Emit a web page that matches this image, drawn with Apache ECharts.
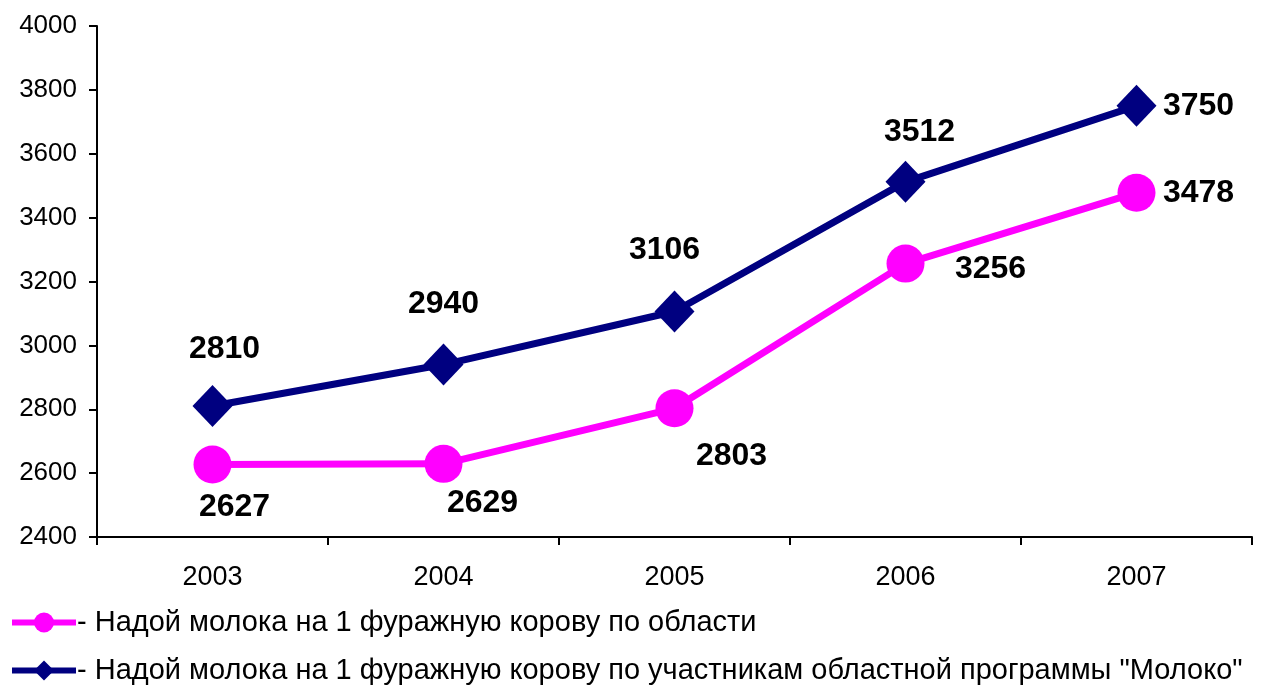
<!DOCTYPE html>
<html>
<head>
<meta charset="utf-8">
<script src="https://cdn.jsdelivr.net/npm/echarts@6/dist/echarts.min.js"></script>
<style>
  html, body { margin: 0; padding: 0; background: #fff; }
  #chart { width: 1265px; height: 686px; }
</style>
</head>
<body>
<div id="chart"></div>
<script>
const years = ['2003', '2004', '2005', '2006', '2007']
const oblast = [2627, 2629, 2803, 3256, 3478]
const moloko = [2810, 2940, 3106, 3512, 3750]
const oblastName = '- Надой молока на 1 фуражную корову по области'
const molokoName = '- Надой молока на 1 фуражную корову по участникам областной программы "Молоко"'
// label offsets [dx, dy] for each point
const oblastOffsets = [[22, 43], [39, 39], [57, 48], [85, 6], [62, 0]]
const molokoOffsets = [[12, -57], [0, -60], [-10, -61], [14, -50], [62, 0]]

const font = 'Arial, "Liberation Sans", sans-serif'

function withLabels(values, offsets) {
    return values.map((v, i) => ({
        value: v,
        label: { offset: offsets[i] }
    }))
}

const labelStyle = {
    show: true,
    position: 'inside',
    color: '#000',
    fontFamily: font,
    fontWeight: 'bold',
    fontSize: 32
}

function legendAt(top, name) {
    return {
        orient: 'horizontal',
        left: 4,
        top: top,
        itemWidth: 64,
        itemHeight: 25,
        lineStyle: { width: 6 },
        textStyle: { fontFamily: font, fontSize: 29, color: '#000', padding: [0, 0, 0, -4] },
        data: [name]
    }
}

const mycharts = echarts.init(document.getElementById('chart'))
mycharts.setOption({
    animation: false,
    grid: { left: 97, right: 13, top: 26, bottom: 149 },
    legend: [legendAt(603, oblastName), legendAt(651, molokoName)],
    xAxis: {
        type: 'category',
        data: years,
        boundaryGap: true,
        axisLine: { lineStyle: { color: '#000', width: 2 } },
        axisTick: { show: true, length: 8, lineStyle: { color: '#000', width: 2 } },
        axisLabel: { margin: 27, color: '#000', fontFamily: font, fontSize: 27 }
    },
    yAxis: {
        type: 'value',
        min: 2400,
        max: 4000,
        interval: 200,
        splitLine: { show: false },
        axisLine: { show: true, lineStyle: { color: '#000', width: 2 } },
        axisTick: { show: true, length: 8, lineStyle: { color: '#000', width: 2 } },
        axisLabel: { margin: 20, color: '#000', fontFamily: font, fontSize: 26, formatter: v => String(v) }
    },
    series: [
        {
            name: oblastName,
            type: 'line',
            data: withLabels(oblast, oblastOffsets),
            symbol: 'circle',
            symbolSize: 38,
            lineStyle: { color: '#FF00FF', width: 7 },
            itemStyle: { color: '#FF00FF' },
            label: labelStyle,
            z: 2
        },
        {
            name: molokoName,
            type: 'line',
            data: withLabels(moloko, molokoOffsets),
            symbol: 'diamond',
            symbolSize: [40, 42],
            lineStyle: { color: '#000080', width: 7 },
            itemStyle: { color: '#000080' },
            label: labelStyle,
            z: 3
        }
    ]
})
</script>
</body>
</html>
